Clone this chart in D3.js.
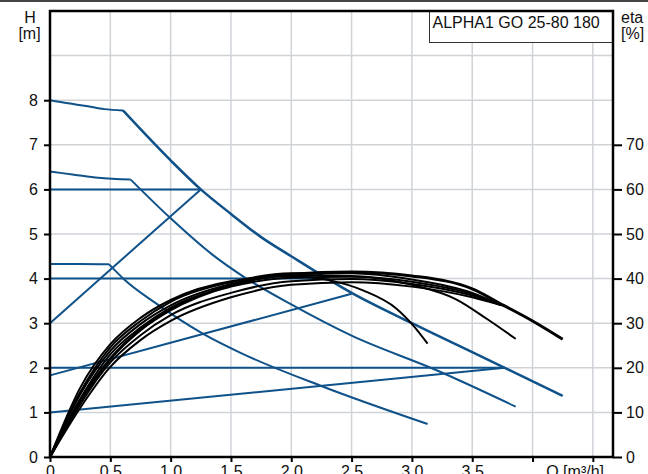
<!DOCTYPE html>
<html><head><meta charset="utf-8">
<script src="https://cdn.jsdelivr.net/npm/d3@7"></script>
<style>
body{margin:0;background:#fff;}
svg{display:block;font-family:"Liberation Sans",Arial,sans-serif;}
</style></head>
<body><svg id="c" width="648" height="474"></svg>
<script>
// ---- data ----
const qTicks = [0,0.5,1.0,1.5,2.0,2.5,3.0,3.5,4.0,4.5];
const qTickLabels = ["0","0.5","1.0","1.5","2.0","2.5","3.0","3.5","",""];
const hTicks = [0,1,2,3,4,5,6,7,8];
const hGrid = [1,2,3,4,5,6,7,8,9];
const etaTicks = [0,10,20,30,40,50,60,70];
const title = "ALPHA1 GO 25-80 180";

// pump curves (Q m3/h, H m): flat part and falling part
const maxFlat = [[0,8],[0.15,7.93],[0.3,7.87],[0.45,7.8],[0.605,7.77]];
const maxFall = [[0.605,7.77],[1.0,6.65],[1.25,6.0],[1.5,5.45],[1.75,4.93],[2.0,4.5],[2.5,3.68],[3.0,3.0],[3.5,2.35],[3.77,2.0],[4.25,1.37]];
const midFlat = [[0,6.4],[0.2,6.33],[0.4,6.26],[0.669,6.22]];
const midFall = [[0.669,6.22],[0.989,5.38],[1.354,4.52],[1.6,4.05],[2.0,3.42],[2.5,2.72],[3.2,1.95],[3.86,1.13]];
const lowFlat = [[0,4.33],[0.25,4.33],[0.49,4.32]];
const lowFall = [[0.49,4.32],[0.62,3.97],[0.87,3.46],[1.27,2.76],[1.575,2.34],[2.27,1.57],[3.13,0.74]];

// control lines: constant and proportional pressure
const constLines = [[[0,6],[1.25,6]],[[0,4],[2.3,4]],[[0,2],[3.77,2]]];
const propLines = [[[0,3],[1.25,6]],[[0,1.83],[2.5,3.66]],[[0,1],[3.77,2]]];

// efficiency curves (Q m3/h, eta %)
const effMax = [[0,0],[0.25,12.5],[0.5,22],[0.75,28.5],[1.0,33],[1.5,38.5],[2.0,41],[2.5,41.5],[3.0,40.6],[3.5,37.7],[3.76,34.0],[4.0,30.5],[4.25,26.4]];
const effMid = [[0,0],[0.25,14],[0.5,23.8],[0.75,29.8],[1.0,34],[1.5,38.8],[2.0,40.8],[2.5,40.6],[3.0,38.6],[3.37,35.3],[3.62,31],[3.86,26.5]];
const effLow = [[0,0],[0.25,15.5],[0.5,25.3],[0.75,31.2],[1.0,35.2],[1.5,39.4],[2.0,40.5],[2.32,39.6],[2.6,37.3],[2.87,33.3],[3.01,29.5],[3.13,25.4]];
const effB1 = [[0,0],[0.25,11],[0.5,20.2],[0.75,26.2],[1.0,30.5],[1.5,35.8],[2.0,38.6],[2.5,39.2],[3.0,38.2],[3.5,35.8],[3.745,34]];
const effB2 = [[0,0],[0.25,11.8],[0.5,21.2],[0.75,27.3],[1.0,31.8],[1.5,36.8],[2.0,39.4],[2.5,39.9],[3.0,38.8],[3.5,36.2],[3.745,34]];
const effB3 = [[0,0],[0.25,13],[0.5,23],[0.75,29],[1.0,33.5],[1.5,38.2],[2.0,40.2],[2.5,40.4],[3.0,39.3],[3.5,36.5],[3.745,34]];
const effB4 = [[0,0],[0.25,14.5],[0.5,24.6],[0.75,30.5],[1.0,34.8],[1.5,39.2],[2.0,41.2],[2.5,41.2],[3.0,39.8],[3.5,36.8],[3.745,34]];

// ---- drawing ----
const svg = d3.select("#c");
const L = 50, R = 613, T = 11, B = 457;
const x = d3.scaleLinear().domain([0, 4.667]).range([L, R]);
const y = d3.scaleLinear().domain([0, 10]).range([B, T]);
const ye = d3.scaleLinear().domain([0, 100]).range([B, T]);
const blue = "#0f5189", grid = "#cfd3d8";

svg.append("line").attr("x1",0).attr("x2",648).attr("y1",1).attr("y2",1).attr("stroke","#444").attr("stroke-width",2);

// grid
svg.append("g").selectAll("line").data(qTicks.filter(d=>d>0)).join("line")
  .attr("x1",d=>x(d)).attr("x2",d=>x(d)).attr("y1",T).attr("y2",B)
  .attr("stroke",grid).attr("stroke-width",1.5);
svg.append("g").selectAll("line").data(hGrid).join("line")
  .attr("x1",L).attr("x2",R).attr("y1",d=>y(d)).attr("y2",d=>y(d))
  .attr("stroke",grid).attr("stroke-width",1.5);

// legend box
svg.append("rect").attr("x",429.5).attr("y",T).attr("width",R-429.5).attr("height",31.5)
  .attr("fill","#fff").attr("stroke","#333").attr("stroke-width",1);
svg.append("text").attr("x",432.5).attr("y",27.5).attr("font-size",16).attr("fill","#111").text(title);

// pump & control lines
const lineQH = d3.line().x(d=>x(d[0])).y(d=>y(d[1])).curve(d3.curveMonotoneX);
const lineLin = d3.line().x(d=>x(d[0])).y(d=>y(d[1]));
const gb = svg.append("g").attr("fill","none").attr("stroke",blue).attr("stroke-width",2);
[maxFlat,midFlat,lowFlat,midFall,lowFall].forEach(c=>gb.append("path").attr("d",lineQH(c)));
gb.append("path").attr("d",lineQH(maxFall)).attr("stroke-width",2.5);
constLines.concat(propLines).forEach(c=>gb.append("path").attr("d",lineLin(c)));

// efficiency curves
const lineE = d3.line().x(d=>x(d[0])).y(d=>ye(d[1])).curve(d3.curveMonotoneX);
const ge = svg.append("g").attr("fill","none").attr("stroke","#000").attr("stroke-width",2);
[effB1,effB2,effB3,effB4,effLow,effMid].forEach(c=>ge.append("path").attr("d",lineE(c)));
ge.append("path").attr("d",lineE(effMax)).attr("stroke-width",3);

// axes
const axL = d3.axisLeft(y).tickValues(hTicks).tickSize(6).tickPadding(6).tickSizeOuter(0).tickFormat(d3.format("d"));
const axR = d3.axisRight(ye).tickValues(etaTicks).tickSize(9).tickPadding(4).tickSizeOuter(0).tickFormat(d3.format("d"));
const axB = d3.axisBottom(x).tickValues(qTicks).tickSize(5).tickPadding(4).tickSizeOuter(0).tickFormat((d,i)=>qTickLabels[i]);
function style(g){
  g.select(".domain").remove();
  g.selectAll("line").attr("stroke","#000").attr("stroke-width",2);
  g.selectAll("text").attr("font-size",16).attr("fill","#111").attr("font-family","Liberation Sans, Arial, sans-serif");
}
svg.append("g").attr("transform",`translate(${L},0)`).call(axL).call(style);
svg.append("g").attr("transform",`translate(${R},0)`).call(axR).call(style);
svg.append("g").attr("transform",`translate(0,${B})`).call(axB).call(style);

// frame
svg.append("rect").attr("x",L).attr("y",T).attr("width",R-L).attr("height",B-T)
  .attr("fill","none").attr("stroke","#000").attr("stroke-width",2.5);

// axis titles
const tt = svg.append("g").attr("font-size",16).attr("fill","#111");
tt.append("text").attr("x",30).attr("y",23).attr("text-anchor","middle").text("H");
tt.append("text").attr("x",29.5).attr("y",38.5).attr("text-anchor","middle").text("[m]");
tt.append("text").attr("x",621).attr("y",23).text("eta");
tt.append("text").attr("x",621).attr("y",38.5).text("[%]");
tt.append("text").attr("x",604).attr("y",477).attr("text-anchor","end").text("Q [m³/h]");
</script></body></html>
